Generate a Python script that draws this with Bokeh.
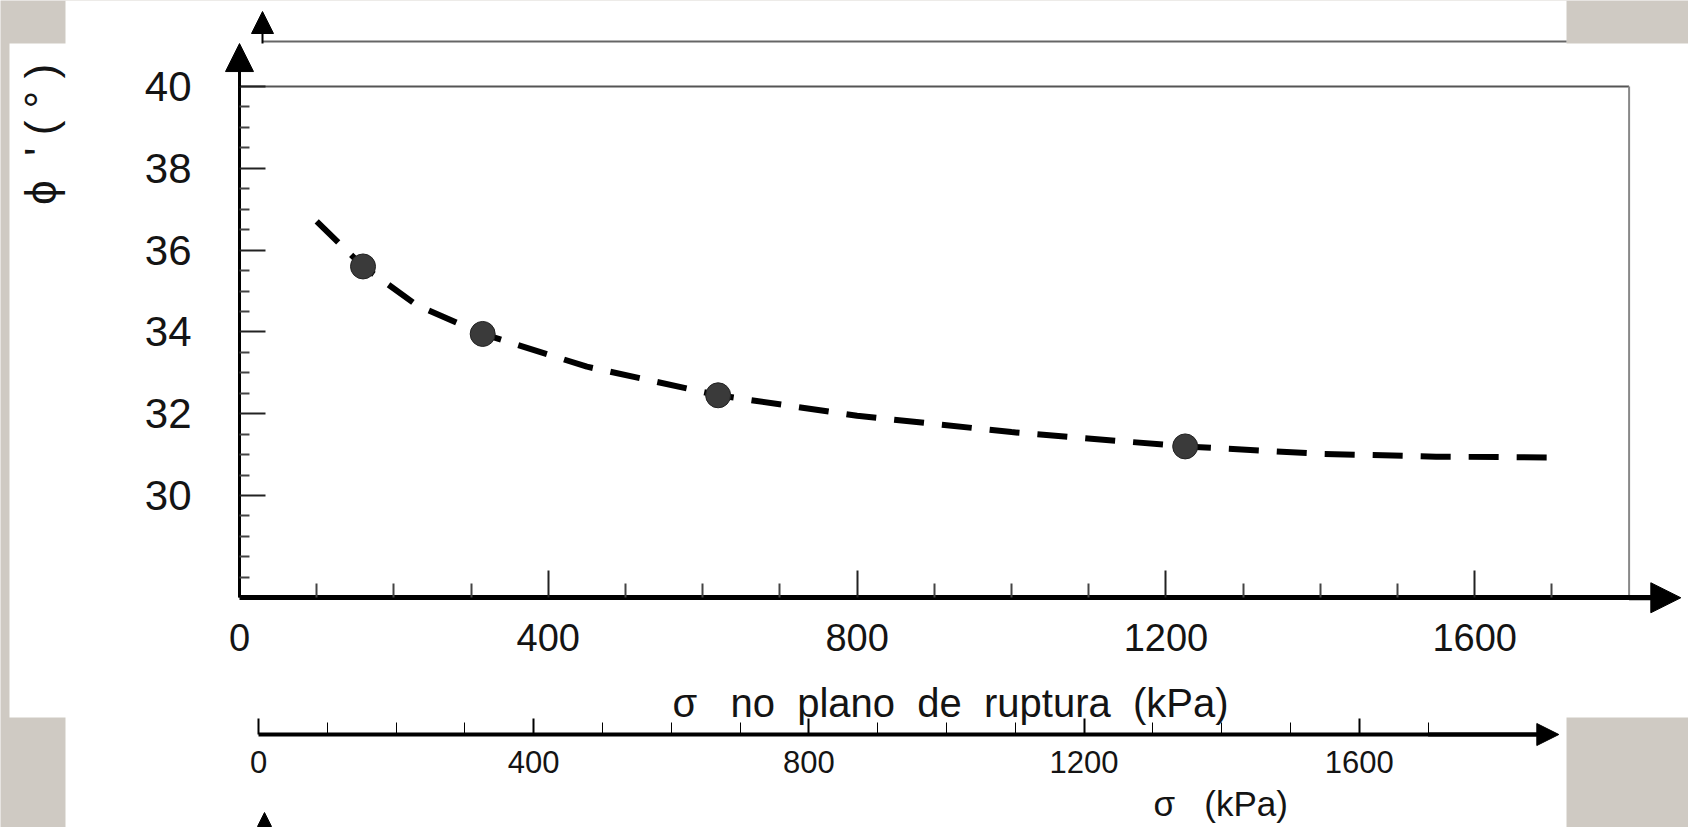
import math
from bokeh.plotting import figure
from bokeh.models import (FixedTicker, Arrow, NormalHead, Label, Range1d, LinearAxis,
                          BoxAnnotation)
from bokeh.embed import file_html
from bokeh.resources import INLINE

# ---- data ----
sigma_points = [160, 315, 620, 1225]          # kPa
phi_points = [35.6, 33.95, 32.45, 31.2]       # degrees
sigma_curve = [100, 160, 230, 315, 450, 620, 800, 1000, 1225, 1400, 1550, 1700]
phi_curve = [36.7, 35.6, 34.65, 33.95, 33.15, 32.45, 31.95, 31.55, 31.2, 31.02, 30.95, 30.93]

x_ticks = [0, 400, 800, 1200, 1600]
x_minor_ticks = [100, 200, 300, 500, 600, 700, 900, 1000, 1100, 1300, 1400, 1500, 1700]
y_ticks = [30, 32, 34, 36, 38, 40]
y_minor_ticks = [28, 28.5, 29, 29.5, 30.5, 31, 31.5, 32.5, 33, 33.5, 34.5, 35, 35.5,
                 36.5, 37, 37.5, 38.5, 39, 39.5]
lower_x_ticks = [0, 400, 800, 1200, 1600]
lower_x_minor = [100, 200, 300, 500, 600, 700, 900, 1000, 1100, 1300, 1400, 1500, 1700]

NB = "\u00a0"
x_label = "σ" + NB * 3 + "no" + NB * 2 + "plano" + NB * 2 + "de" + NB * 2 + "ruptura" + NB * 2 + "(kPa)"
y_label = "ϕ" + NB * 2 + "'" + NB + "(" + NB + "°" + NB + ")"
lower_label = "σ" + NB * 3 + "(kPa)"

# axis extents (data units)
X_MIN, X_BOX, X_ARROW = 0, 1800, 1867
Y_MIN, Y_BOX, Y_ARROW = 27.5, 40, 41.05
LOW_MIN, LOW_ARROW = 0, 1890

# ---- page geometry (pixels) ----
W, H = 1688, 827
MAIN_X0_PX, PX_PER_KPA = 239.0, 0.772      # sigma = 0 position and scale
PHI40_PX, PX_PER_DEG = 86.0, 40.9          # phi = 40 position and scale
LOW_X0_PX, LOW_PX_PER_KPA = 258.0, 0.688   # lower (rear) chart axis
LOW_AXIS_PX = 734.0


def x_of(px):
    return (px - MAIN_X0_PX) / PX_PER_KPA


def y_of(py):
    return 40 - (py - PHI40_PX) / PX_PER_DEG


def low_of(px):
    return (px - LOW_X0_PX) / LOW_PX_PER_KPA


FONT = "Liberation Sans"
PAGE_BG = "#cfcac3"
TXT = "#141414"

p = figure(width=W, height=H, x_range=Range1d(x_of(0), x_of(W)), y_range=Range1d(y_of(H), y_of(0)),
           output_backend="svg", toolbar_location=None, min_border=0,
           background_fill_color=PAGE_BG, border_fill_color=PAGE_BG, outline_line_color=None)
p.extra_x_ranges = {"lower": Range1d(low_of(0), low_of(W))}
p.grid.visible = False

# white sheets: the rear chart and the main chart lying on top of it
p.add_layout(BoxAnnotation(left=x_of(65), right=x_of(1566), bottom=y_of(H), top=y_of(0),
                           fill_color="white", fill_alpha=1, line_color=None, level="underlay"))
p.add_layout(BoxAnnotation(left=x_of(9), right=x_of(W), bottom=y_of(717), top=y_of(43),
                           fill_color="white", fill_alpha=1, line_color=None, level="underlay"))

# ---- main axes (fixed inside the canvas) ----
xa = p.xaxis[0]
ya = p.yaxis[0]
xa.fixed_location = Y_MIN
ya.fixed_location = X_MIN
xa.bounds = (X_MIN, X_ARROW - 20)
ya.bounds = (Y_MIN, Y_ARROW - 0.3)
xa.ticker = FixedTicker(ticks=x_ticks, minor_ticks=x_minor_ticks)
ya.ticker = FixedTicker(ticks=y_ticks, minor_ticks=y_minor_ticks)

for ax in (xa, ya):
    ax.axis_line_color = "black"
    ax.major_tick_out = 0
    ax.minor_tick_out = 0
    ax.major_tick_line_color = "#222222"
    ax.minor_tick_line_color = "#444444"
    ax.major_tick_line_width = 2
    ax.minor_tick_line_width = 2
    ax.major_label_text_font = FONT
    ax.major_label_text_color = TXT

xa.axis_line_width = 5
xa.major_tick_in = 27
xa.minor_tick_in = 14
xa.major_label_text_font_size = "38px"
xa.major_label_standoff = 26

ya.axis_line_width = 3
ya.major_tick_in = 26
ya.minor_tick_in = 10
ya.major_label_text_font_size = "42px"
ya.major_label_standoff = 48

# box lines (top and right)
p.segment(x0=[X_MIN, X_BOX], y0=[Y_BOX, Y_MIN], x1=[X_BOX, X_BOX], y1=[Y_BOX, Y_BOX],
          line_color=["#555555", "#888888"], line_width=2)

# fitted dashed curve and measured points
p.line(sigma_curve, phi_curve, line_color="black", line_width=6, line_dash="30 18")
p.scatter(sigma_points, phi_points, size=25, fill_color="#3a3a3a", line_color="#222222")

# axis arrow heads
p.add_layout(Arrow(end=NormalHead(size=28, fill_color="black", line_color="black"),
                   x_start=X_MIN, y_start=Y_BOX, x_end=X_MIN, y_end=Y_ARROW,
                   line_width=3, line_color="black"))
p.add_layout(Arrow(end=NormalHead(size=30, fill_color="black", line_color="black"),
                   x_start=X_BOX, y_start=Y_MIN, x_end=X_ARROW, y_end=Y_MIN,
                   line_width=5, line_color="black"))

# axis titles
p.add_layout(Label(x=x_of(40), y=y_of(134), text=y_label, angle=math.pi / 2,
                   text_align="center", text_baseline="middle",
                   text_font=FONT, text_font_size="44px", text_color=TXT))
p.add_layout(Label(x=x_of(950), y=y_of(702), text=x_label,
                   text_align="center", text_baseline="middle",
                   text_font=FONT, text_font_size="40px", text_color=TXT))

# ---- rear chart pieces still visible ----
# its top edge line and vertical-axis arrow above the main sheet
p.segment(x0=[x_of(262)], y0=[y_of(41)], x1=[x_of(1566)], y1=[y_of(41)],
          line_color="#666666", line_width=2)
p.add_layout(Arrow(end=NormalHead(size=22, fill_color="black", line_color="black"),
                   x_start=x_of(262), y_start=y_of(43), x_end=x_of(262), y_end=y_of(11),
                   line_width=2, line_color="black"))

# its horizontal axis below the main sheet
la = LinearAxis(x_range_name="lower", fixed_location=y_of(LOW_AXIS_PX),
                bounds=(LOW_MIN, LOW_ARROW - 30),
                ticker=FixedTicker(ticks=lower_x_ticks, minor_ticks=lower_x_minor))
la.axis_line_width = 4
la.axis_line_color = "black"
la.major_tick_in = 16
la.major_tick_out = 0
la.minor_tick_in = 12
la.minor_tick_out = 0
la.major_tick_line_width = 2
la.minor_tick_line_width = 1
la.major_label_text_font = FONT
la.major_label_text_font_size = "31px"
la.major_label_text_color = TXT
la.major_label_standoff = 16
p.add_layout(la, "below")
p.add_layout(Arrow(end=NormalHead(size=22, fill_color="black", line_color="black"),
                   x_start=1700, y_start=y_of(LOW_AXIS_PX), x_end=LOW_ARROW, y_end=y_of(LOW_AXIS_PX),
                   x_range_name="lower", line_width=4, line_color="black"))
p.add_layout(Label(x=x_of(1153), y=y_of(803), text=lower_label,
                   text_align="left", text_baseline="middle",
                   text_font=FONT, text_font_size="35px", text_color=TXT))

# tip of the next rear axis peeking out at the bottom edge
p.add_layout(Arrow(end=NormalHead(size=14, fill_color="black", line_color="black"),
                   x_start=x_of(264), y_start=y_of(H), x_end=x_of(264), y_end=y_of(812),
                   line_width=2, line_color="black"))

open("out.html", "w").write(file_html(p, INLINE))
